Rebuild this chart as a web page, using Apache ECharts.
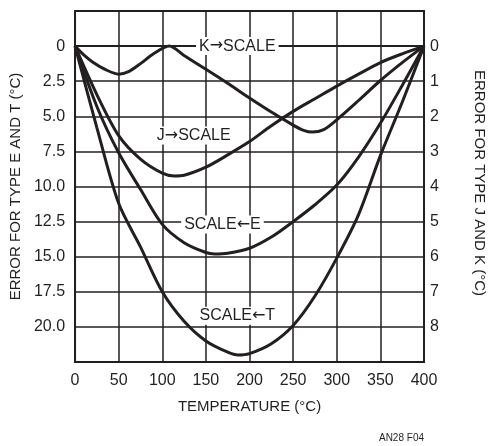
<!DOCTYPE html>
<html>
<head>
<meta charset="utf-8">
<script src="https://cdn.jsdelivr.net/npm/echarts@6/dist/echarts.min.js"></script>
<style>
html, body { margin: 0; padding: 0; background: #fff; }
#chart { width: 488px; height: 446px; }
</style>
</head>
<body>
<div id="chart"></div>
<script>
// type E and T errors, left axis (°C)
var tempE = [0, 25, 50, 75, 100, 125, 150, 160, 175, 200, 225, 250, 275, 300, 325, 350, 375, 400];
var errE  = [0, 4.3, 7.6, 10.2, 12.7, 14.0, 14.7, 14.8, 14.75, 14.4, 13.6, 12.5, 11.3, 9.9, 7.9, 5.5, 2.8, 0];

var tempT = [0, 25, 50, 75, 100, 125, 150, 175, 187, 200, 225, 250, 275, 300, 325, 350, 375, 400];
var errT  = [0, 5.8, 11.2, 14.3, 17.5, 19.6, 21.0, 21.8, 22.0, 21.9, 21.2, 19.9, 17.8, 15.1, 12.0, 7.8, 4.0, 0];

// type J and K errors, right axis (°C)
var tempJ = [0, 25, 50, 75, 100, 114, 125, 150, 175, 200, 225, 250, 275, 300, 325, 350, 375, 400];
var errJ  = [0, 1.38, 2.55, 3.22, 3.62, 3.7, 3.68, 3.45, 3.1, 2.72, 2.27, 1.86, 1.5, 1.14, 0.8, 0.47, 0.22, 0];

var tempK = [0, 10, 20, 35, 50, 62, 75, 90, 108, 125, 150, 175, 200, 225, 250, 262, 272, 285, 300, 325, 350, 375, 400];
var errK  = [0, 0.25, 0.45, 0.67, 0.8, 0.72, 0.5, 0.22, 0, 0.27, 0.66, 1.06, 1.48, 1.88, 2.25, 2.4, 2.45, 2.38, 2.1, 1.55, 0.98, 0.47, 0];

// curve labels: [before arrow, arrow, after arrow, temperature, error]
var labelK = ['K', '\u2192', 'SCALE', 186, 0];
var labelJ = ['J', '\u2192', 'SCALE', 136, 2.55];
var labelE = ['SCALE', '\u2190', 'E', 169, 12.7];
var labelT = ['SCALE', '\u2190', 'T', 186, 19.2];

var ink = '#231f20';
var font = "'Liberation Sans', Arial, sans-serif";

function pairs(xs, ys) {
    return xs.map(function (x, i) { return [x, ys[i]]; });
}

function curveLabel(lab) {
    return {
        symbol: 'rect',
        symbolSize: 1,
        itemStyle: { color: 'rgba(0,0,0,0)' },
        data: [{
            coord: [lab[3], lab[4]],
            label: {
                show: true,
                position: 'inside',
                formatter: lab[0] + '{a|' + lab[1] + '}' + lab[2],
                color: ink,
                fontFamily: font,
                fontSize: 16,
                backgroundColor: '#fff',
                padding: [1, 3],
                rich: {
                    a: { fontFamily: "'DejaVu Sans'", fontSize: 16, color: ink }
                }
            }
        }]
    };
}

function curve(name, xs, ys, axis, lab) {
    return {
        name: name,
        type: 'line',
        yAxisIndex: axis,
        data: pairs(xs, ys),
        smooth: 0.3,
        showSymbol: false,
        lineStyle: { color: ink, width: 3 },
        markPoint: curveLabel(lab),
        z: 3
    };
}

var chart = echarts.init(document.getElementById('chart'));

var option = {
    animation: false,
    grid: {
        left: 73, right: 64, top: 11, bottom: 84,
        show: true, borderColor: ink, borderWidth: 2
    },
    xAxis: {
        type: 'value',
        min: 0, max: 400, interval: 50,
        axisLine: { show: true, lineStyle: { color: ink, width: 2 } },
        axisTick: { show: false },
        splitLine: { show: true, lineStyle: { color: ink, width: 1.5 } },
        axisLabel: { color: ink, fontFamily: font, fontSize: 16, margin: 11 },
        name: 'TEMPERATURE (°C)',
        nameLocation: 'middle',
        nameGap: 37,
        nameTextStyle: { color: ink, fontFamily: font, fontSize: 15 }
    },
    yAxis: [
        {
            type: 'value',
            inverse: true,
            min: -2.5, max: 22.5, interval: 2.5,
            position: 'left',
            axisLine: { show: true, lineStyle: { color: ink, width: 2 } },
            axisTick: { show: false },
            splitLine: { show: true, lineStyle: { color: ink, width: 1.5 } },
            axisLabel: {
                color: ink, fontFamily: font, fontSize: 16, margin: 10,
                formatter: function (v) {
                    if (v < 0 || v > 20.01) return '';
                    return v === 0 ? '0' : v.toFixed(1);
                }
            },
            name: 'ERROR FOR TYPE E AND T (°C)',
            nameLocation: 'middle',
            nameGap: 48,
            nameTextStyle: { color: ink, fontFamily: font, fontSize: 15 }
        },
        {
            type: 'value',
            inverse: true,
            min: -1, max: 9, interval: 1,
            position: 'right',
            axisLine: { show: true, lineStyle: { color: ink, width: 2 } },
            axisTick: { show: false },
            splitLine: { show: false },
            axisLabel: {
                color: ink, fontFamily: font, fontSize: 16, margin: 6,
                formatter: function (v) {
                    return (v < 0 || v > 8) ? '' : String(v);
                }
            }
        }
    ],
    graphic: [
        {
            type: 'text',
            x: 479, y: 183,
            rotation: -Math.PI / 2,
            style: {
                text: 'ERROR FOR TYPE J AND K (°C)',
                fill: ink, font: "15px 'Liberation Sans', Arial, sans-serif",
                align: 'center', verticalAlign: 'middle'
            }
        },
        {
            type: 'text',
            right: 64, bottom: 3,
            style: {
                text: 'AN28 F04',
                fill: ink, font: "10px 'Liberation Sans', Arial, sans-serif"
            }
        }
    ],
    series: [
        curve('K', tempK, errK, 1, labelK),
        curve('J', tempJ, errJ, 1, labelJ),
        curve('E', tempE, errE, 0, labelE),
        curve('T', tempT, errT, 0, labelT)
    ]
};

chart.setOption(option);
</script>
</body>
</html>
